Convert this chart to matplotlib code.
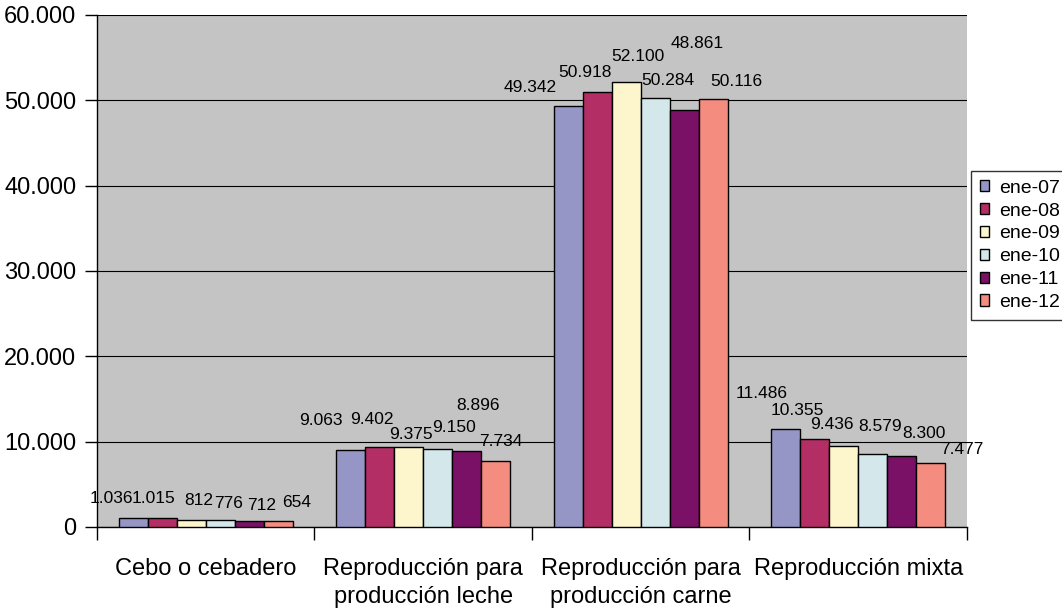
import matplotlib.pyplot as plt
import numpy as np

plt.rcParams['font.family'] = ['Liberation Sans', 'DejaVu Sans']

categories = ['Cebo o cebadero', 'Reproducción para\nproducción leche',
              'Reproducción para\nproducción carne', 'Reproducción mixta']
series = ['ene-07', 'ene-08', 'ene-09', 'ene-10', 'ene-11', 'ene-12']
ene07 = [1036, 9063, 49342, 11486]
ene08 = [1015, 9402, 50918, 10355]
ene09 = [812, 9375, 52100, 9436]
ene10 = [776, 9150, 50284, 8579]
ene11 = [712, 8896, 48861, 8300]
ene12 = [654, 7734, 50116, 7477]
values = [ene07, ene08, ene09, ene10, ene11, ene12]
colors = ['#9696C6', '#B22E65', '#FDF5CC', '#D4E8EB', '#7B1166', '#F58C80']

# label offsets (pixels) from bar top, to mimic the staggered excel labels
label_dx = [[-22, -30, -38, -24], [-9, -8, -12, -17], [8, 2, 12, -12],
            [8, 16, 13, 7], [12, 11, 13, 22], [18, 5, 23, 31]]
label_dy = [[20, 29, 18, 35], [20, 27, 20, 28], [20, 12, 26, 22],
            [17, 21, 17, 27], [15, 46, 67, 23], [19, 19, 18, 14]]


def fmt(v):
    return f'{v:,.0f}'.replace(',', '.')


fig = plt.figure(figsize=(10.62, 6.11), dpi=100)
ax = fig.add_axes([0.0913, 0.1375, 0.8192, 0.838])
ax.set_facecolor('#C4C4C4')

x = np.arange(len(categories))
w = 1 / 7.5
for i, vals in enumerate(values):
    pos = x + (i - 2.5) * w
    ax.bar(pos, vals, w, color=colors[i], edgecolor='black', linewidth=1.0,
           label=series[i], zorder=3)
    for j, v in enumerate(vals):
        ax.annotate(fmt(v), (pos[j], v), xytext=(label_dx[i][j], label_dy[i][j]),
                    textcoords='offset pixels', ha='center', va='center',
                    fontsize=12.5, zorder=5, annotation_clip=False)

ax.set_xlim(-0.5, 3.5)
ax.set_ylim(0, 60000)
ax.set_yticks(np.arange(0, 60001, 10000))
ax.set_yticklabels([fmt(t) for t in np.arange(0, 60001, 10000)], fontsize=17)
ax.yaxis.grid(True, color='black', linewidth=0.8, zorder=0)
ax.set_axisbelow(True)

ax.set_xticks(np.arange(-0.5, 4, 1))
ax.set_xticklabels([])
ax.set_xticks(x, minor=True)
ax.set_xticklabels(categories, minor=True, fontsize=17, linespacing=1.4)
ax.tick_params(axis='x', which='minor', length=0, pad=22)
ax.tick_params(axis='x', which='major', length=9, width=1, direction='out')
ax.tick_params(axis='y', length=9, width=1, direction='out', pad=6)

for s in ['top', 'right']:
    ax.spines[s].set_visible(False)
for s in ['left', 'bottom']:
    ax.spines[s].set_color('black')
    ax.spines[s].set_linewidth(1.0)

leg = fig.legend(loc='upper left', bbox_to_anchor=(971 / 1062, 1 - 171 / 611),
                 fontsize=14, frameon=True, fancybox=False, shadow=False,
                 handlelength=0.5, handleheight=0.5, handletextpad=0.5,
                 labelspacing=0.3, borderpad=0.45, borderaxespad=0)
leg.get_frame().set_edgecolor('black')
leg.get_frame().set_linewidth(1.0)

fig.savefig('out.png', dpi=100)
